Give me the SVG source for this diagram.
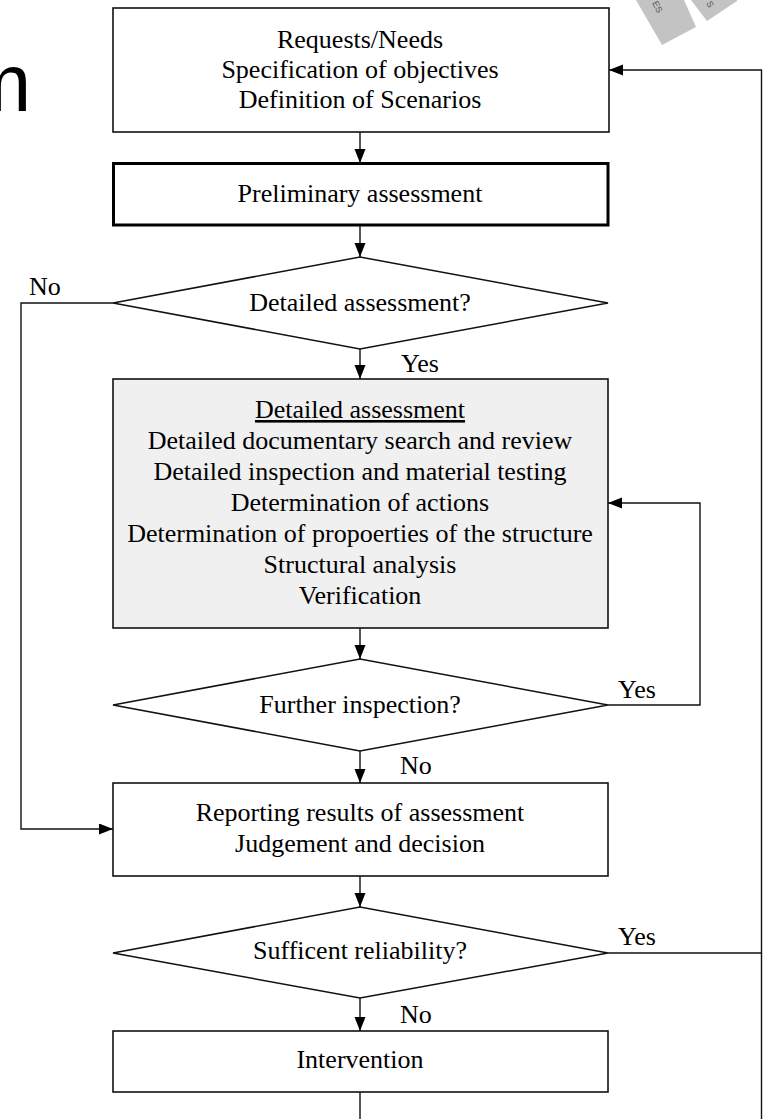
<svg xmlns="http://www.w3.org/2000/svg" width="763" height="1119" viewBox="0 0 763 1119">
  <style>
    .box { fill: #ffffff; stroke: #111111; stroke-width: 1.6; }
    .thick { fill: #ffffff; stroke: #000000; stroke-width: 3; }
    .gray { fill: #f0f0f0; stroke: #111111; stroke-width: 1.6; }
    .dia { fill: #ffffff; stroke: #111111; stroke-width: 1.5; }
    .t { font-family: "Liberation Serif", "Times New Roman", serif; font-size: 26px; fill: #000000; text-anchor: middle; }
    .lbl { font-family: "Liberation Serif", "Times New Roman", serif; font-size: 26px; fill: #000000; }
    .conn { fill: none; stroke: #111111; stroke-width: 1.4; }
  </style>
  <defs>
    <marker id="arrow" markerUnits="userSpaceOnUse" markerWidth="15" markerHeight="12" refX="14" refY="5.5" orient="auto">
      <path d="M0,0 L14,5.5 L0,11 z" fill="#000000"/>
    </marker>
  </defs>
  <rect width="763" height="1119" fill="#ffffff"/>

  <!-- cropped title fragment -->
  <text x="-37" y="111" font-family="Liberation Sans, Arial, sans-serif" font-size="82" fill="#000000">m</text>

  <!-- watermark fragment -->
  <g id="watermark">
    <polygon points="636,0 684,0 696,27 662,45" fill="#c3c3c3"/>
    <polygon points="691,0 737,0 737,1 707,21" fill="#c3c3c3"/>
    <text x="652" y="3" transform="rotate(62 652 3)" font-family="Liberation Sans, Arial, sans-serif" font-size="9" fill="#555555">ES</text>
    <text x="706" y="3" transform="rotate(62 706 3)" font-family="Liberation Sans, Arial, sans-serif" font-size="9" fill="#555555">S</text>
  </g>

  <g id="connectors">
    <line class="conn" x1="360" y1="132" x2="360" y2="163" marker-end="url(#arrow)"/>
    <line class="conn" x1="360" y1="225" x2="360" y2="257" marker-end="url(#arrow)"/>
    <line class="conn" x1="360" y1="349" x2="360" y2="379" marker-end="url(#arrow)"/>
    <line class="conn" x1="360" y1="628" x2="360" y2="659" marker-end="url(#arrow)"/>
    <line class="conn" x1="360" y1="751" x2="360" y2="783" marker-end="url(#arrow)"/>
    <line class="conn" x1="360" y1="876" x2="360" y2="907" marker-end="url(#arrow)"/>
    <line class="conn" x1="360" y1="998" x2="360" y2="1031" marker-end="url(#arrow)"/>
    <line class="conn" x1="360" y1="1092" x2="360" y2="1119"/>
    <path class="conn" d="M113,303 H21 V829 H113" marker-end="url(#arrow)"/>
    <path class="conn" d="M608,705 H700 V503 H608" marker-end="url(#arrow)"/>
    <path class="conn" d="M608,953 H761.5 V70 H609" marker-end="url(#arrow)"/>
    <line class="conn" x1="761.5" y1="953" x2="761.5" y2="1119"/>
    <text class="lbl" x="29" y="295">No</text>
    <text class="lbl" x="401" y="372">Yes</text>
    <text class="lbl" x="618" y="698">Yes</text>
    <text class="lbl" x="400" y="774">No</text>
    <text class="lbl" x="618" y="945">Yes</text>
    <text class="lbl" x="400" y="1023">No</text>
  </g>

  <g id="requests">
    <rect class="box" x="113" y="8" width="496" height="124"/>
    <text class="t" x="360" y="48">Requests/Needs</text>
    <text class="t" x="360" y="78">Specification of objectives</text>
    <text class="t" x="360" y="108">Definition of Scenarios</text>
  </g>

  <g id="preliminary">
    <rect class="thick" x="113.5" y="163.5" width="494.5" height="61.5"/>
    <text class="t" x="360" y="202">Preliminary assessment</text>
  </g>

  <g id="decision-detailed">
    <polygon class="dia" points="113,303 360,257 608,303 360,349"/>
    <text class="t" x="360" y="311">Detailed assessment?</text>
  </g>

  <g id="detailed">
    <rect class="gray" x="113" y="379" width="495" height="249"/>
    <text class="t" x="360" y="418" text-decoration="underline">Detailed assessment</text>
    <text class="t" x="360" y="449">Detailed documentary search and review</text>
    <text class="t" x="360" y="480">Detailed inspection and material testing</text>
    <text class="t" x="360" y="511">Determination of actions</text>
    <text class="t" x="360" y="542">Determination of propoerties of the structure</text>
    <text class="t" x="360" y="573">Structural analysis</text>
    <text class="t" x="360" y="604">Verification</text>
  </g>

  <g id="decision-further">
    <polygon class="dia" points="113,705 360,659 608,705 360,751"/>
    <text class="t" x="360" y="713">Further inspection?</text>
  </g>

  <g id="reporting">
    <rect class="box" x="113" y="783" width="495" height="93"/>
    <text class="t" x="360" y="821">Reporting results of assessment</text>
    <text class="t" x="360" y="852">Judgement and decision</text>
  </g>

  <g id="decision-reliability">
    <polygon class="dia" points="113,953 360,907 608,953 360,998"/>
    <text class="t" x="360" y="959">Sufficent reliability?</text>
  </g>

  <g id="intervention">
    <rect class="box" x="113" y="1031" width="495" height="61"/>
    <text class="t" x="360" y="1068">Intervention</text>
  </g>
</svg>
